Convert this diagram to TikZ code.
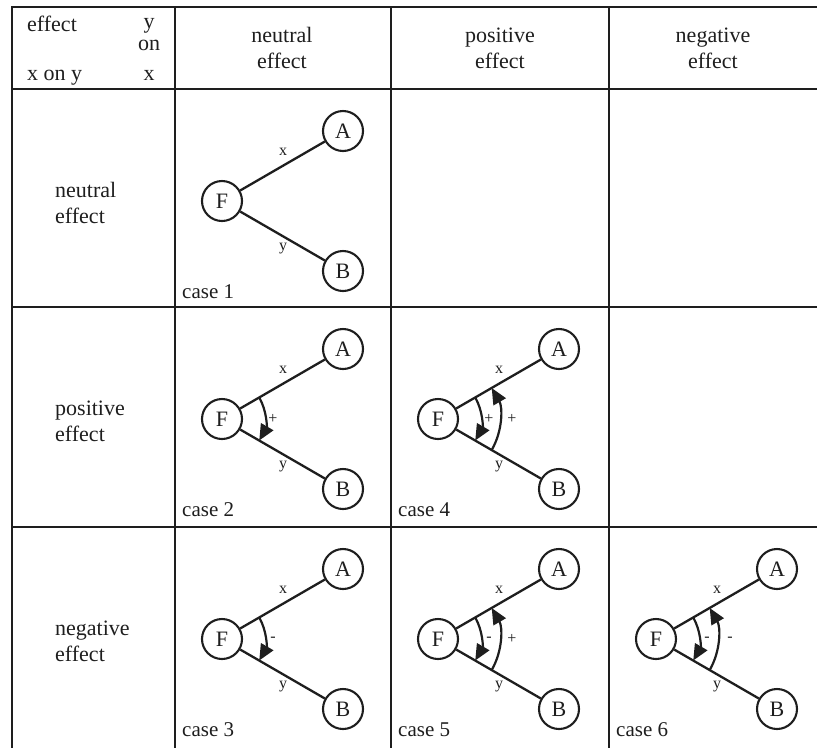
\documentclass[tikz,border=0pt]{standalone}
\usepackage{fontspec}
\setmainfont{Liberation Serif}
\usetikzlibrary{arrows.meta}
\definecolor{ink}{RGB}{30,30,30}
\tikzset{
 hgrid/.style={draw=ink, line width=2pt},
 vgrid/.style={draw=ink, line width=2.5pt},
 circ/.style={circle, draw=ink, line width=2.1pt, minimum size=40pt, inner sep=0pt, font=\fontsize{22}{26}\selectfont, text=ink},
 conn/.style={draw=ink, line width=2.3pt},
 lbl/.style={font=\fontsize{16}{19}\selectfont, text=ink, inner sep=0pt},
 big/.style={font=\fontsize{22}{26}\selectfont, text=ink, inner sep=0pt},
 caselbl/.style={font=\fontsize{21}{25}\selectfont, text=ink, inner sep=0pt},
 effarc/.style={draw=ink, line width=2.2pt, -{Triangle[length=16pt,width=14pt]}},
}
\newcommand{\fabcell}[4]{%
 \node[circ] (#3F) at (#1+47,#2+112) {F};
 \node[circ] (#3A) at (#1+168,#2+42) {A};
 \node[circ] (#3B) at (#1+168,#2+182) {B};
 \draw[conn] (#3F) -- (#3A);
 \draw[conn] (#3F) -- (#3B);
 \node[lbl] (#3x) at (#1+108,#2+63) {x};
 \node[lbl] (#3y) at (#1+108,#2+160) {y};
 \node[caselbl, anchor=base west] (#3c) at (#1+7,#2+209) {#4};
}
\newcommand{\downarc}[2]{% #1 prefix, #2 label
 \draw[effarc] ([shift={(30:43pt)}]#1F.center) arc[start angle=30, end angle=-30, radius=43pt];
 \node[lbl] (#1pin) at ([shift={(51pt,0pt)}]#1F.center) {#2};
}
\newcommand{\uparc}[2]{% #1 prefix, #2 label
 \draw[effarc] ([shift={(-30:62pt)}]#1F.center) arc[start angle=-30, end angle=30, radius=62pt];
 \node[lbl] (#1pout) at ([shift={(74pt,0pt)}]#1F.center) {#2};
}
\begin{document}
\begin{tikzpicture}[x=1pt,y=-1pt]
\useasboundingbox (0,0) rectangle (817,748);
% grid
\draw[hgrid] (12,7) -- (817,7);
\draw[hgrid] (12,89) -- (817,89);
\draw[hgrid] (12,307) -- (817,307);
\draw[hgrid] (12,527) -- (817,527);
\draw[hgrid] (12,6) -- (12,748);
\draw[vgrid] (175,6) -- (175,748);
\draw[vgrid] (391,6) -- (391,748);
\draw[vgrid] (609,6) -- (609,748);
% corner header
\node[big, anchor=base west] (h1) at (27,31) {effect};
\node[big, anchor=base] (h2) at (149,28) {y};
\node[big, anchor=base] (h3) at (149,50) {on};
\node[big, anchor=base west] (h4) at (27,80) {x on y};
\node[big, anchor=base] (h5) at (149,80) {x};
% column headers
\node[big, anchor=base] (c1a) at (282,42) {neutral};
\node[big, anchor=base] (c1b) at (282,68) {effect};
\node[big, anchor=base] (c2a) at (500,42) {positive};
\node[big, anchor=base] (c2b) at (500,68) {effect};
\node[big, anchor=base] (c3a) at (713,42) {negative};
\node[big, anchor=base] (c3b) at (713,68) {effect};
% row headers
\node[big, anchor=base west] (r1a) at (55,197) {neutral};
\node[big, anchor=base west] (r1b) at (55,223) {effect};
\node[big, anchor=base west] (r2a) at (55,415) {positive};
\node[big, anchor=base west] (r2b) at (55,441) {effect};
\node[big, anchor=base west] (r3a) at (55,635) {negative};
\node[big, anchor=base west] (r3b) at (55,661) {effect};
% cells
\fabcell{175}{89}{ca}{case 1}
\fabcell{175}{307}{cb}{case 2}
\downarc{cb}{+}
\fabcell{175}{527}{cc}{case 3}
\downarc{cc}{-}
\fabcell{391}{307}{cd}{case 4}
\downarc{cd}{+}
\uparc{cd}{+}
\fabcell{391}{527}{ce}{case 5}
\downarc{ce}{-}
\uparc{ce}{+}
\fabcell{609}{527}{cf}{case 6}
\downarc{cf}{-}
\uparc{cf}{-}
\end{tikzpicture}
\end{document}
